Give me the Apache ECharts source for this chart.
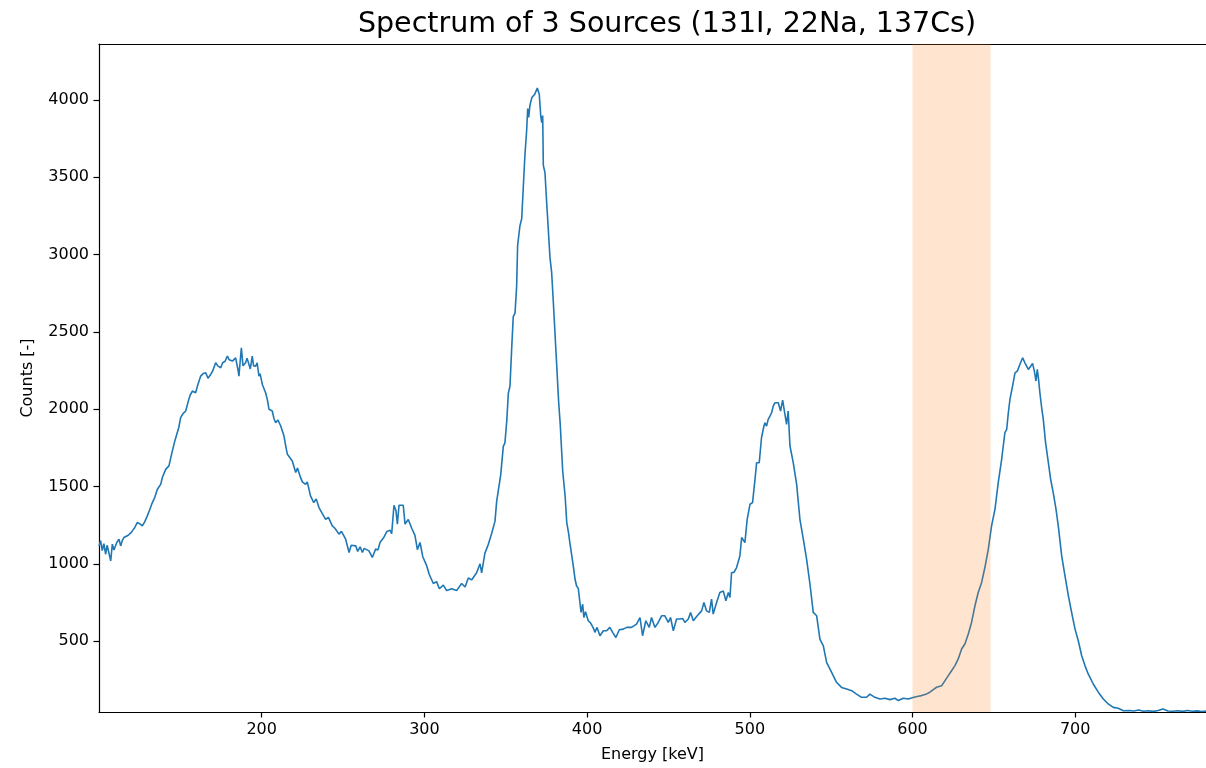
<!DOCTYPE html>
<html>
<head>
<meta charset="utf-8">
<script src="https://cdn.jsdelivr.net/npm/echarts@6/dist/echarts.min.js"></script>
<style>
html,body{margin:0;padding:0;background:#fff;}
#chart{width:1206px;height:768px;}
</style>
</head>
<body>
<div id="chart"></div>
<script>
const titleText = "Spectrum of 3 Sources (131I, 22Na, 137Cs)";
const xName = "Energy [keV]";
const yName = "Counts [-]";
const xTicks = [200, 300, 400, 500, 600, 700];
const yTicks = [500, 1000, 1500, 2000, 2500, 3000, 3500, 4000];
const band = [600, 648];

const energy = [
100.0,101.0,102.0,103.0,104.1,105.0,106.0,107.2,108.2,109.2,110.2,111.0,112.3,113.3,114.3,115.3,116.5,118.0,119.5,120.5,
122.0,123.5,125.0,126.6,128.0,129.7,131.0,132.8,134.3,135.9,137.9,139.0,141.0,143.0,144.0,145.1,146.5,147.5,149.0,150.2,
151.5,153.3,154.9,156.0,157.4,159.4,160.5,162.5,164.0,165.6,167.0,168.6,170.0,171.7,173.0,174.8,176.0,177.5,178.9,180.0,
182.0,184.0,185.5,186.0,187.5,188.5,190.1,191.0,192.2,193.0,194.2,195.0,196.3,197.2,198.3,199.0,200.4,201.0,202.4,203.5,
204.5,206.5,207.5,208.6,210.0,211.7,213.7,214.8,215.8,217.0,218.8,220.9,222.0,223.9,225.0,227.0,228.0,230.0,232.0,233.5,
235.2,237.0,239.3,241.0,243.4,245.0,247.5,249.0,251.6,252.5,253.7,255.0,257.8,259.0,260.5,261.9,263.0,265.9,267.0,268.0,
270.0,271.5,272.7,275.0,276.8,278.8,279.9,281.3,282.5,283.4,284.4,285.6,287.0,288.1,290.1,292.2,294.2,295.7,297.3,299.0,
301.4,303.0,305.5,307.5,309.2,311.6,313.7,316.8,319.8,322.9,325.0,327.0,329.0,332.1,334.2,335.2,337.2,339.3,341.3,343.4,
344.4,345.4,346.9,348.5,349.5,350.6,351.6,352.6,353.6,354.6,355.7,356.7,357.3,358.7,359.8,360.8,361.8,362.8,363.5,364.1,
364.9,366.0,367.0,368.0,369.4,370.6,371.5,372.1,372.7,373.1,374.1,375.1,376.2,377.2,378.2,379.2,380.3,381.3,382.5,383.5,
385.0,386.5,387.5,388.6,389.4,390.5,391.5,392.6,393.5,394.6,395.5,396.3,397.3,398.0,399.0,400.7,402.0,403.8,404.8,406.1,
407.9,410.0,412.0,414.0,415.7,417.7,419.8,422.2,424.3,427.3,430.4,432.5,434.1,436.1,438.2,439.6,441.7,443.7,445.8,447.8,
449.9,451.3,453.0,455.0,457.1,458.7,460.1,462.2,463.6,465.3,467.7,470.4,471.8,473.4,475.1,476.5,477.5,479.6,481.6,483.7,
485.3,486.8,487.8,488.8,490.2,491.9,493.9,495.0,497.0,498.4,500.1,501.7,503.2,504.2,505.8,507.2,508.7,509.3,510.3,511.3,
512.4,513.4,514.4,515.4,517.5,518.9,520.2,521.6,522.6,523.6,524.7,526.7,528.8,530.8,532.9,534.9,537.0,539.0,541.1,543.1,
545.2,547.2,550.3,553.3,556.4,559.5,562.6,565.6,568.7,571.8,573.8,576.9,580.0,583.1,586.1,589.2,591.3,594.3,597.4,600.9,
603.6,605.6,608.7,610.7,612.8,614.8,617.9,620.0,622.0,624.0,626.1,628.1,630.2,632.2,634.3,636.3,638.4,640.4,642.5,644.5,
646.6,648.6,650.7,652.7,654.8,656.8,657.9,658.9,659.9,661.5,663.0,664.4,666.0,667.7,669.1,671.2,672.6,673.8,674.9,675.9,
676.7,677.5,678.3,679.4,680.4,681.8,683.5,684.9,686.5,688.2,689.6,691.7,693.7,695.8,697.8,699.9,701.9,704.0,706.0,708.0,
711.1,714.2,717.3,720.3,723.4,726.5,729.6,733.0,736.0,739.0,742.0,745.0,748.0,751.0,754.0,757.0,760.0,763.0,766.0,769.0,
772.0,775.0,778.0,781.0,784.0,787.0,790.0
];
const counts = [
1116,1150,1085,1130,1062,1120,1075,1019,1127,1090,1095,1140,1159,1116,1150,1170,1160,1185,1200,1213,
1235,1267,1260,1245,1270,1310,1345,1396,1430,1482,1514,1560,1611,1633,1680,1730,1790,1826,1880,1945,
1970,1988,2052,2090,2117,2106,2150,2214,2230,2235,2200,2224,2250,2300,2280,2268,2300,2310,2343,2320,
2311,2332,2250,2214,2397,2280,2300,2330,2332,2260,2343,2280,2278,2300,2214,2230,2160,2170,2106,2060,
1999,1988,1940,1913,1930,1891,1826,1760,1708,1720,1665,1590,1620,1557,1530,1514,1530,1439,1396,1420,
1364,1330,1288,1300,1245,1230,1192,1210,1159,1170,1073,1120,1116,1080,1110,1073,1100,1084,1090,1041,
1095,1090,1138,1170,1207,1218,1195,1379,1345,1257,1379,1372,1379,1257,1287,1230,1184,1092,1138,1046,
988,931,873,885,839,862,827,839,827,873,850,908,896,942,1000,942,1069,1126,1195,1276,
1402,1413,1575,1759,1782,1920,2104,2150,2380,2598,2621,2794,3058,3185,3231,3438,3645,3794,3944,3886,
3967,4013,4024,4040,4077,4036,3898,3852,3898,3576,3530,3346,3334,2978,2886,2701,2690,2288,2050,1900,
1600,1437,1267,1200,1137,1060,987,900,858,840,758,686,739,653,690,632,620,586,557,589,
535,567,567,589,557,524,574,578,589,589,610,653,535,632,589,653,589,621,664,664,
621,653,567,643,643,647,621,643,686,632,664,696,750,696,686,772,675,750,815,825,
761,815,782,944,944,976,1051,1170,1137,1288,1385,1396,1546,1654,1654,1815,1891,1912,1891,1934,
1955,1977,2020,2041,2041,1988,2058,1966,1901,1988,1762,1654,1514,1288,1159,1030,868,686,664,513,
470,363,298,234,201,191,180,158,137,137,158,137,126,131,122,131,116,131,126,137,
144,148,159,170,187,202,212,245,277,309,342,385,449,482,546,621,729,815,880,976,
1095,1245,1353,1525,1676,1848,1870,1977,2063,2149,2235,2246,2289,2332,2300,2257,2278,2296,2246,2182,
2257,2192,2106,2009,1934,1783,1654,1547,1461,1353,1245,1052,923,794,686,578,503,406,342,288,
223,170,126,94,72,66,50,52,48,55,47,50,46,52,62,48,47,50,46,52,
47,49,45,48,46,47,45
];

const FONT = "DejaVu Sans";
const X_MIN = 100, X_MAX = 780.4, Y_MIN = 42, Y_MAX = 4361;
const chart = echarts.init(document.getElementById('chart'), null, {renderer: 'canvas'});
const seriesData = energy.map((e, i) => [e, counts[i]]);
const plain = v => String(v);

chart.setOption({
  animation: false,
  backgroundColor: '#ffffff',
  title: {
    text: titleText,
    left: 662,
    top: 5,
    textAlign: 'center',
    textStyle: {fontFamily: FONT, fontSize: 28.5, fontWeight: 'normal', color: '#000'}
  },
  grid: {
    left: 99, top: 44, right: 0, bottom: 55,
    show: false, containLabel: false
  },
  xAxis: [
    {
      type: 'value', min: X_MIN, max: X_MAX, position: 'bottom',
      name: xName, nameLocation: 'middle', nameGap: 35,
      nameTextStyle: {fontFamily: FONT, fontSize: 16, color: '#000'},
      splitLine: {show: false},
      axisLine: {show: true, onZero: false, lineStyle: {color: '#000', width: 1.2}},
      axisTick: {show: true, length: 5.5, customValues: xTicks, lineStyle: {color: '#000', width: 1.2}},
      axisLabel: {customValues: xTicks, formatter: plain, margin: 10, fontFamily: FONT, fontSize: 16, color: '#000'}
    },
    {
      type: 'value', min: X_MIN, max: X_MAX, position: 'top',
      splitLine: {show: false},
      axisLine: {show: true, onZero: false, lineStyle: {color: '#000', width: 1.2}},
      axisTick: {show: false},
      axisLabel: {show: false}
    }
  ],
  yAxis: {
    type: 'value', min: Y_MIN, max: Y_MAX,
    name: yName, nameLocation: 'middle', nameGap: 63, nameRotate: 90,
    nameTextStyle: {fontFamily: FONT, fontSize: 16, color: '#000'},
    splitLine: {show: false},
    axisLine: {show: true, onZero: false, lineStyle: {color: '#000', width: 1.2}},
    axisTick: {show: true, length: 5.5, customValues: yTicks, lineStyle: {color: '#000', width: 1.2}},
    axisLabel: {customValues: yTicks, formatter: plain, margin: 10, fontFamily: FONT, fontSize: 16, color: '#000'}
  },
  series: [
    {
      type: 'line', data: seriesData, showSymbol: false, symbol: 'none',
      lineStyle: {color: '#1f77b4', width: 1.6}, z: 2, silent: true
    },
    {
      type: 'custom', z: 10, silent: true,
      data: [[band[0], band[1]]],
      renderItem: function (params, api) {
        const cs = params.coordSys;
        const p0 = api.coord([api.value(0), Y_MAX]);
        const p1 = api.coord([api.value(1), Y_MIN]);
        return {
          type: 'rect',
          shape: {x: p0[0], y: cs.y, width: p1[0] - p0[0], height: cs.height},
          style: {fill: 'rgba(255,127,14,0.2)'}
        };
      }
    }
  ]
});
</script>
</body>
</html>
